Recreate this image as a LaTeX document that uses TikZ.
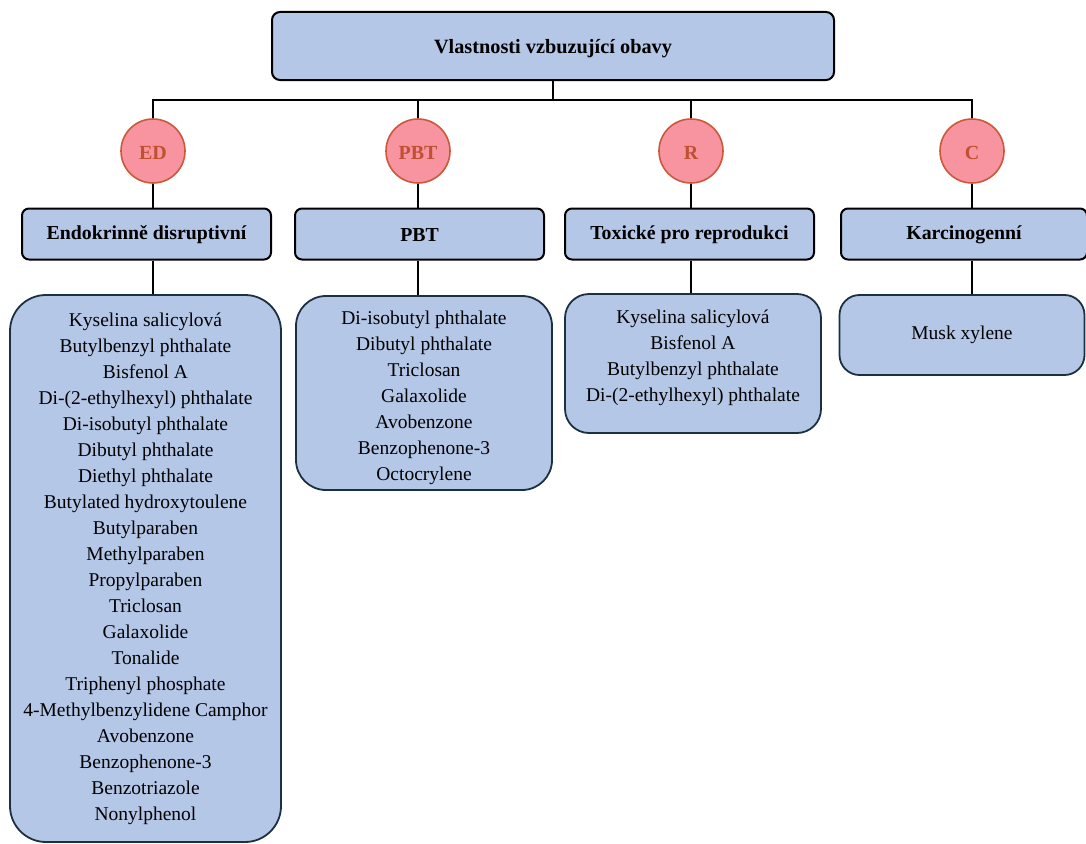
\documentclass[tikz,border=0pt]{standalone}
\usepackage{fontspec}
\setmainfont{Liberation Serif}
\definecolor{boxfill}{RGB}{180,199,231}
\definecolor{listedge}{RGB}{28,48,64}
\definecolor{circfill}{RGB}{247,148,160}
\definecolor{circedge}{RGB}{204,88,60}
\definecolor{circtext}{RGB}{192,80,50}
\newcommand{\shifttext}[2]{\raisebox{#1}[\height][\depth]{#2}}
\tikzset{
  headbox/.style={draw=black, line width=2pt, fill=boxfill, rounded corners=8pt, inner sep=0pt,
    font=\fontsize{20.3}{24}\selectfont\bfseries},
  catbox/.style={draw=black, line width=2pt, fill=boxfill, rounded corners=7pt, inner sep=0pt,
    minimum height=51pt, font=\fontsize{19.8}{23}\selectfont\bfseries},
  listbox/.style={draw=listedge, line width=1.8pt, fill=boxfill, inner sep=0pt, align=center,
    font=\fontsize{19.5}{26}\selectfont},
  circ/.style={circle, draw=circedge, line width=1.6pt, fill=circfill, minimum size=64pt, inner sep=0pt,
    text=circtext, font=\fontsize{20}{24}\selectfont\bfseries},
  conn/.style={draw=black, line width=1.4pt}
}
\begin{document}
\begin{tikzpicture}[x=1pt,y=-1pt]
\useasboundingbox (0,0) rectangle (1086,843);
% title
\node[headbox, minimum width=562pt, minimum height=68pt] (title) at (553,46) {\shifttext{-3pt}{Vlastnosti vzbuzující obavy}};
\coordinate (bus) at (553,100);
% circles
\node[circ] (edc) at (153,151) {\shifttext{-1.5pt}{ED}};
\node[circ] (pbtc) at (418,151) {\shifttext{-1.5pt}{PBT}};
\node[circ] (rc) at (691,151) {\shifttext{-1.5pt}{R}};
\node[circ] (cc) at (972,151) {\shifttext{-1.5pt}{C}};
% category boxes
\node[catbox, minimum width=249pt] (edb) at (146.5,234) {\shifttext{-1pt}{Endokrinně disruptivní}};
\node[catbox, minimum width=249pt] (pbtb) at (419.5,234) {\shifttext{-1pt}{PBT}};
\node[catbox, minimum width=249pt] (rb) at (689.5,234) {\shifttext{-1pt}{Toxické pro reprodukci}};
\node[catbox, minimum width=246pt] (cb) at (964,234) {\shifttext{-1pt}{Karcinogenní}};
% lists
\node[listbox, rounded corners=36pt, minimum width=271pt, minimum height=547pt] (edl) at (145.5,568.5) {Kyselina salicylová\\Butylbenzyl phthalate\\Bisfenol A\\Di-(2-ethylhexyl) phthalate\\Di-isobutyl phthalate\\Dibutyl phthalate\\Diethyl phthalate\\Butylated hydroxytoulene\\Butylparaben\\Methylparaben\\Propylparaben\\Triclosan\\Galaxolide\\Tonalide\\Triphenyl phosphate\\4-Methylbenzylidene Camphor\\Avobenzone\\Benzophenone-3\\Benzotriazole\\Nonylphenol};
\node[listbox, rounded corners=30pt, minimum width=256pt, minimum height=194pt] (pbtl) at (424,393) {\shifttext{-4pt}{\begin{tabular}{@{}c@{}}Di-isobutyl phthalate\\Dibutyl phthalate\\Triclosan\\Galaxolide\\Avobenzone\\Benzophenone-3\\Octocrylene\end{tabular}}};
\node[listbox, rounded corners=24pt, minimum width=256pt, minimum height=139pt] (rl) at (693,363.5) {\shifttext{6pt}{\begin{tabular}{@{}c@{}}Kyselina salicylová\\Bisfenol A\\Butylbenzyl phthalate\\Di-(2-ethylhexyl) phthalate\end{tabular}}};
\node[listbox, rounded corners=20pt, minimum width=245pt, minimum height=80pt] (cl) at (962,335) {Musk xylene};
% connectors
\draw[conn] (title.south) -- (bus);
\draw[conn] (bus) -| (edc.north);
\draw[conn] (bus) -| (pbtc.north);
\draw[conn] (bus) -| (rc.north);
\draw[conn] (bus) -| (cc.north);
\draw[conn] (edc.south) -- (edc |- edb.north);
\draw[conn] (pbtc.south) -- (pbtc |- pbtb.north);
\draw[conn] (rc.south) -- (rc |- rb.north);
\draw[conn] (cc.south) -- (cc |- cb.north);
\draw[conn] (edc |- edb.south) -- (edc |- edl.north);
\draw[conn] (pbtc |- pbtb.south) -- (pbtc |- pbtl.north);
\draw[conn] (rc |- rb.south) -- (rc |- rl.north);
\draw[conn] (cc |- cb.south) -- (cc |- cl.north);
\end{tikzpicture}
\end{document}
